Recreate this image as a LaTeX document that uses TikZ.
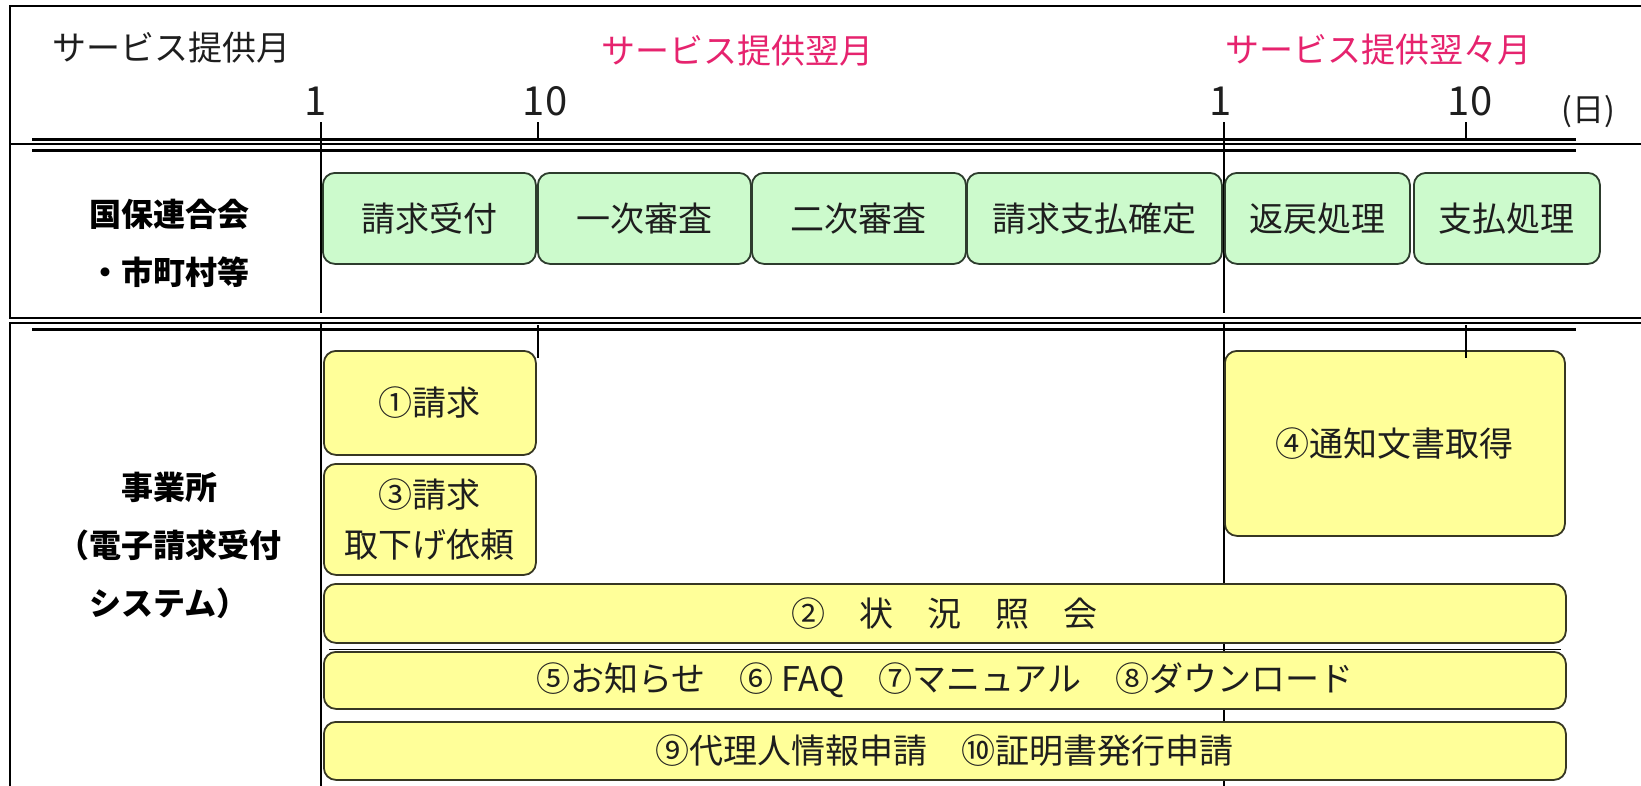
\documentclass[tikz,border=0pt]{standalone}
\usepackage{fontspec}
\setmainfont{Noto Sans CJK JP}
\usetikzlibrary{calc}
\definecolor{gfill}{RGB}{204,250,204}
\definecolor{gline}{RGB}{45,60,45}
\definecolor{yfill}{RGB}{255,255,153}
\definecolor{yline}{RGB}{55,55,35}
\definecolor{pinktxt}{RGB}{230,35,110}
\definecolor{txt}{RGB}{30,30,30}
\tikzset{
  frameline/.style={line width=1.6pt, black},
  rail/.style={line width=3pt, black},
  dayline/.style={line width=2.8pt, black},
  boxbase/.style={line width=1.8pt, rounded corners=12pt, inner sep=0pt, anchor=north west,
    align=center, text=txt, font=\fontsize{34}{50}\selectfont},
  gbox/.style={boxbase, draw=gline, fill=gfill},
  ybox/.style={boxbase, draw=yline, fill=yfill},
  daynum/.style={anchor=base, inner sep=0pt, text=txt, font=\fontsize{40}{42}\selectfont},
  monthlbl/.style={inner sep=0pt, font=\fontsize{34}{40}\selectfont},
  rowlbl/.style={inner sep=0pt, align=center, text=black, font=\fontsize{32}{58}\selectfont\bfseries}
}
\begin{document}
\begin{tikzpicture}[x=1pt,y=-1pt]
\useasboundingbox (0,0) rectangle (1641,785);
\clip (0,0) rectangle (1641,785);
\fill[white] (0,0) rectangle (1641,785);

% table frame
\draw[frameline] (1660,6) -- (10,6) -- (10,318) -- (1660,318);
\draw[frameline] (10,144) -- (1660,144);
\draw[frameline] (10,800) -- (10,323) -- (1660,323);

% rails
\draw[rail] (32,139) -- (1576,139);
\draw[rail] (32,150) -- (1576,150);
\draw[rail] (32,329) -- (1576,329);

% day lines
\draw[dayline] (321,122) -- (321,313);
\draw[dayline] (1224,122) -- (1224,313);
\draw[dayline] (321,323) -- (321,800);
\draw[dayline] (1224,323) -- (1224,800);
\draw[dayline] (538,122) -- (538,139);
\draw[dayline] (1466,122) -- (1466,139);

% header texts
\node[monthlbl, anchor=west, text=txt] (m0) at (52,48) {サービス提供月};
\node[monthlbl, text=pinktxt] (m1) at (737,51) {サービス提供翌月};
\node[monthlbl, text=pinktxt] (m2) at (1378,50) {サービス提供翌々月};
\node[daynum] (d1) at (316,115) {1};
\node[daynum] (d10) at (545,115) {10};
\node[daynum] (d1b) at (1221,115) {1};
\node[daynum] (d10b) at (1470,115) {10};
\node[inner sep=0pt, text=txt, font=\fontsize{32}{34}\selectfont] (unit) at (1588,112) {(日)};

% row labels
\node[rowlbl] (r1) at (169,243) {国保連合会\\・市町村等};
\node[rowlbl] (r2) at (169,545) {事業所\\（電子請求受付\\システム）};

% green boxes
\node[gbox, minimum width=213, minimum height=91] (g1) at (322,172) {請求受付};
\node[gbox, minimum width=213, minimum height=91] (g2) at (537,172) {一次審査};
\node[gbox, minimum width=214, minimum height=91] (g3) at (751,172) {二次審査};
\node[gbox, minimum width=255, minimum height=91] (g4) at (966,172) {請求支払確定};
\node[gbox, minimum width=185, minimum height=91] (g5) at (1224,172) {返戻処理};
\node[gbox, minimum width=186, minimum height=91] (g6) at (1413,172) {支払処理};

% yellow boxes
\node[ybox, minimum width=212, minimum height=104] (y1) at (323,350) {①請求};
\node[ybox, minimum width=212, minimum height=111] (y3) at (323,463) {③請求\\取下げ依頼};
\node[ybox, minimum width=340, minimum height=185] (y4) at (1224,350) {④通知文書取得};
\node[ybox, minimum width=1242, minimum height=59] (y2) at (323,583) {②　状　況　照　会};
\draw[line width=1pt, black] ($(y2.south west)+(6,6)$) -- ($(y2.south east)+(-6,6)$);
\node[ybox, minimum width=1242, minimum height=57] (y5) at (323,651) {⑤お知らせ　⑥ FAQ　⑦マニュアル　⑧ダウンロード};
\node[ybox, minimum width=1242, minimum height=58] (y9) at (323,721) {⑨代理人情報申請　⑩証明書発行申請};

% lower ticks
\draw[dayline] (538,325) -- (538,358);
\draw[dayline] (1466,325) -- (1466,358);
\end{tikzpicture}
\end{document}
